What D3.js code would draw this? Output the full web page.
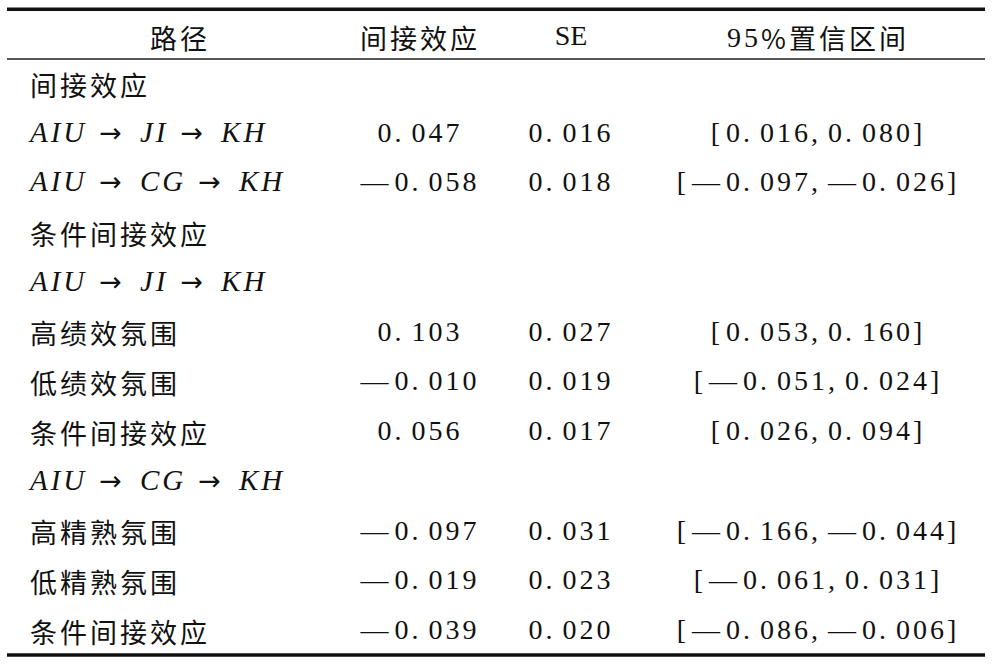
<!DOCTYPE html>
<html lang="zh">
<head>
    <meta charset="UTF-8">
    <title>条件间接效应</title>
    <script src="https://d3js.org/d3.v7.min.js"></script>
    <style>
        body { margin: 0; background: #fff; }
        svg { display: block; }
        .cjk { font-family: "Noto Sans CJK SC", sans-serif; font-size: 27px; letter-spacing: 3px; }
        .num { font-family: "Liberation Serif", serif; font-size: 28px; letter-spacing: 3px; }
        .path { font-family: "Liberation Serif", serif; font-size: 29px; font-style: italic; letter-spacing: 3px; }
        .arrow { font-family: "DejaVu Sans", sans-serif; font-style: normal; font-size: 27px; }
    </style>
</head>
<body>
<svg id="chart" width="992" height="672"></svg>
<script>
'use strict';

// column headers
const headers = ['路径', '间接效应', 'SE', '95%置信区间'];

// row labels (type: 'cjk' plain Chinese, 'path' italic path label)
const rowLabels = ['间接效应', 'AIU → JI → KH', 'AIU → CG → KH', '条件间接效应', 'AIU → JI → KH',
    '高绩效氛围', '低绩效氛围', '条件间接效应', 'AIU → CG → KH', '高精熟氛围', '低精熟氛围', '条件间接效应'];
const rowTypes = ['cjk', 'path', 'path', 'cjk', 'path', 'cjk', 'cjk', 'cjk', 'path', 'cjk', 'cjk', 'cjk'];

// values (null = empty cell)
const effects = [null, 0.047, -0.058, null, null, 0.103, -0.010, 0.056, null, -0.097, -0.019, -0.039];
const ses     = [null, 0.016, 0.018, null, null, 0.027, 0.019, 0.017, null, 0.031, 0.023, 0.020];
const ciLow   = [null, 0.016, -0.097, null, null, 0.053, -0.051, 0.026, null, -0.166, -0.061, -0.086];
const ciHigh  = [null, 0.080, -0.026, null, null, 0.160, 0.024, 0.094, null, -0.044, 0.031, -0.006];

const svg = d3.select('#chart');
const x0 = 7, x1 = 985;

// column centres
const colCenters = [180, 420, 571, 818];

// row centres
const y = d3.scaleLinear().domain([0, rowLabels.length - 1]).range([84, 631]);

const fmt = v => (v < 0 ? '—' : '') + Math.abs(v).toFixed(3);

// write a string into a text element, widening the gap after dots, dashes and commas
function writeNum(sel, str) {
    const gaps = { '.': 7, '—': 3, ',': 7, '[': 3 };
    let buf = '', dx = null;
    for (const ch of str) {
        buf += ch;
        if (gaps[ch] !== undefined) {
            sel.append('tspan').attr('dx', dx).text(buf);
            buf = '';
            dx = gaps[ch];
        }
    }
    if (buf) sel.append('tspan').attr('dx', dx).text(buf);
}

// italic path label with larger upright arrows
function writePath(sel, str) {
    str.split(' → ').forEach((p, i) => {
        if (i > 0) sel.append('tspan').attr('class', 'arrow').attr('dx', 12).text('→');
        sel.append('tspan').attr('dx', i > 0 ? 15 : null).text(p);
    });
}

// rules
svg.append('line').attr('x1', x0).attr('x2', x1).attr('y1', 9.3).attr('y2', 9.3)
    .attr('stroke', '#111').attr('stroke-width', 3.5);
svg.append('line').attr('x1', x0).attr('x2', x1).attr('y1', 59).attr('y2', 59)
    .attr('stroke', '#555').attr('stroke-width', 2);
svg.append('line').attr('x1', x0).attr('x2', x1).attr('y1', 655).attr('y2', 655)
    .attr('stroke', '#111').attr('stroke-width', 3.5);

// header
headers.forEach((h, i) => {
    const t = svg.append('text')
        .attr('x', colCenters[i]).attr('y', 37)
        .attr('text-anchor', 'middle').attr('dominant-baseline', 'central')
        .attr('fill', '#111');
    if (h === 'SE') {
        t.attr('class', 'num').style('letter-spacing', '0px').attr('y', 35).text(h);
    } else if (h.startsWith('95%')) {
        t.attr('class', 'cjk');
        t.append('tspan').style('font-family', '"Liberation Serif", serif').style('font-size', '28px').text('95');
        t.append('tspan').text('%置信区间');
    } else {
        t.attr('class', 'cjk').text(h);
    }
});

// body rows
rowLabels.forEach((lab, r) => {
    const cy = y(r);
    const lt = svg.append('text')
        .attr('class', rowTypes[r])
        .attr('x', 30).attr('y', rowTypes[r] === 'path' ? cy - 2 : cy)
        .attr('dominant-baseline', 'central')
        .attr('fill', '#111');
    if (rowTypes[r] === 'path') writePath(lt, lab);
    else lt.text(lab);

    if (effects[r] !== null) {
        const cells = [fmt(effects[r]), fmt(ses[r]), '[' + fmt(ciLow[r]) + ',' + fmt(ciHigh[r]) + ']'];
        cells.forEach((c, j) => {
            writeNum(svg.append('text').attr('class', 'num')
                .attr('x', colCenters[j + 1]).attr('y', cy - 2)
                .attr('text-anchor', 'middle').attr('dominant-baseline', 'central')
                .attr('fill', '#111'), c);
        });
    }
});
</script>
</body>
</html>
